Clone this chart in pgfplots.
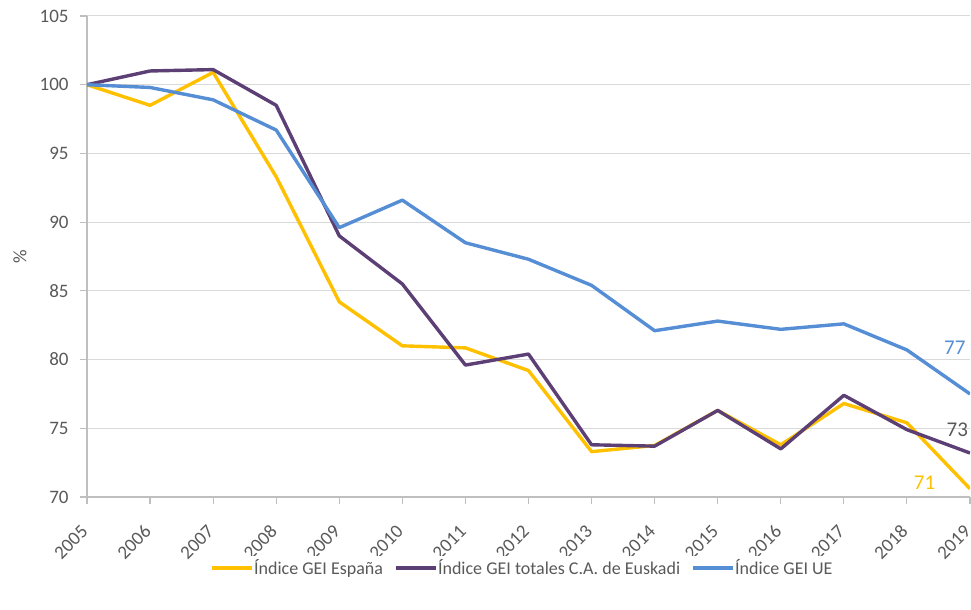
\documentclass[border=0pt]{standalone}
\usepackage{fontspec}
\setmainfont{Carlito}
\usepackage{pgfplots}
\pgfplotsset{compat=1.18}
\definecolor{cyel}{HTML}{FFC000}
\definecolor{cpur}{HTML}{5C3F74}
\definecolor{cblu}{HTML}{558ED5}
\definecolor{ctxt}{HTML}{595959}
\definecolor{cgrid}{HTML}{D9D9D9}
\definecolor{caxis}{HTML}{BFBFBF}
\begin{document}
\begin{tikzpicture}
\useasboundingbox (-87bp,-113bp) rectangle (884bp,497bp);
\begin{axis}[
  at={(0,0)}, anchor=south west,
  scale only axis, width=883bp, height=481bp,
  xmin=2005, xmax=2019, ymin=70, ymax=105,
  xtick={2005,...,2019}, ytick={70,75,...,105},
  /pgf/number format/1000 sep={},
  /pgf/number format/assume math mode=true,
  ymajorgrids, grid style={cgrid, line width=1bp},
  axis x line*=bottom, axis y line*=left,
  axis line style={caxis, line width=1.2bp},
  tick style={caxis, line width=1.2bp},
  major tick length=7bp,
  tick align=outside,
  ticklabel style={font=\fontsize{19bp}{22bp}\selectfont, text=ctxt},
  xticklabel style={rotate=45, anchor=east},
  xticklabel shift=22bp,
  yticklabel style={xshift=-8bp},
  ylabel={\%}, ylabel style={font=\fontsize{19bp}{22bp}\selectfont, text=ctxt, at={(axis description cs:0,0.5)}, yshift=57bp},
  legend columns=3,
  legend style={draw=none, at={(0.493,-0.148)}, anchor=center, font=\fontsize{18bp}{21bp}\selectfont, text=ctxt,
    /tikz/every even column/.append style={column sep=9bp},
    /tikz/every odd column/.append style={column sep=-2bp}},
  legend image code/.code={\draw[#1, line width=4bp] (0bp,0bp) -- (40bp,0bp);},
  every axis plot/.append style={line width=3.4bp, line join=round},
]
\addplot[cyel, mark=none] coordinates {
(2005,100) (2006,98.5) (2007,100.9) (2008,93.3) (2009,84.2) (2010,81.0) (2011,80.85) (2012,79.2) (2013,73.3) (2014,73.75) (2015,76.3) (2016,73.8) (2017,76.8) (2018,75.4) (2019,70.6)};
\addlegendentry{Índice GEI España}
\addplot[cpur, mark=none] coordinates {
(2005,100) (2006,101.0) (2007,101.1) (2008,98.5) (2009,89.0) (2010,85.5) (2011,79.6) (2012,80.4) (2013,73.8) (2014,73.7) (2015,76.3) (2016,73.5) (2017,77.4) (2018,74.9) (2019,73.2)};
\addlegendentry{Índice GEI totales C.A. de Euskadi}
\addplot[cblu, mark=none] coordinates {
(2005,100) (2006,99.8) (2007,98.9) (2008,96.7) (2009,89.6) (2010,91.6) (2011,88.5) (2012,87.3) (2013,85.4) (2014,82.1) (2015,82.8) (2016,82.2) (2017,82.6) (2018,80.7) (2019,77.5)};
\addlegendentry{Índice GEI UE}
\node[text=cblu, font=\fontsize{21bp}{24bp}\selectfont] at (axis cs:2018.76,80.85) {77};
\node[text=ctxt, font=\fontsize{21bp}{24bp}\selectfont] at (axis cs:2018.8,74.9) {73};
\node[text=cyel, font=\fontsize{21bp}{24bp}\selectfont] at (axis cs:2018.28,71.05) {71};
\end{axis}
\end{tikzpicture}
\end{document}
